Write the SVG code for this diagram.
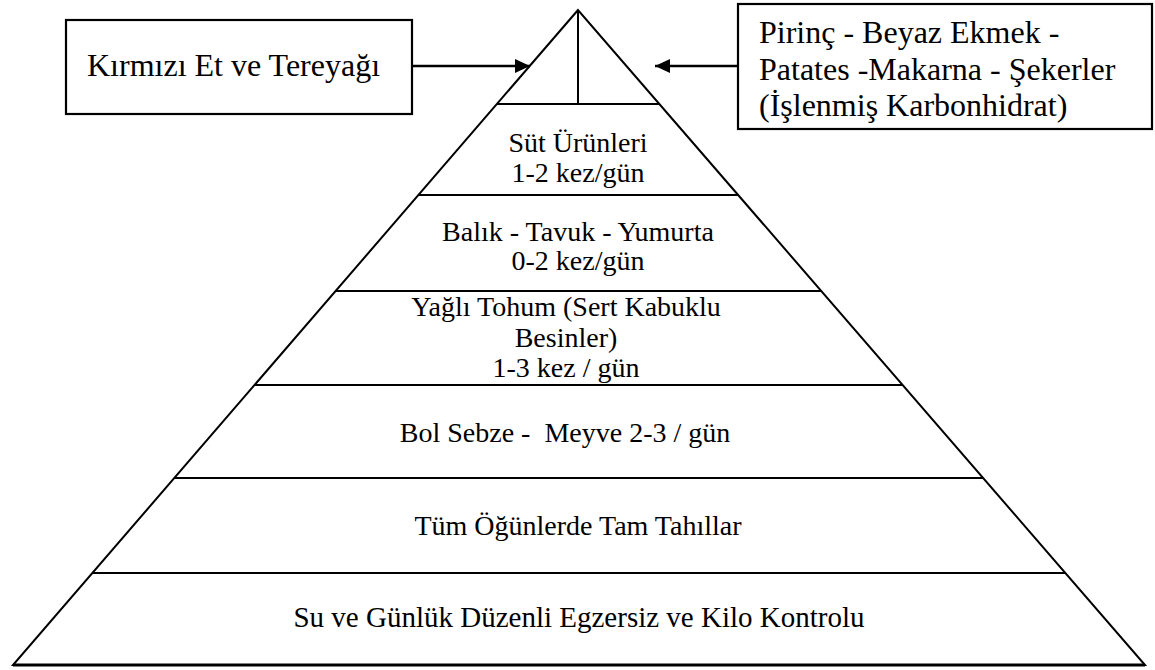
<svg xmlns="http://www.w3.org/2000/svg" width="1155" height="670" viewBox="0 0 1155 670">
<style>
.ln{stroke:#000;stroke-width:2;fill:none}
.bx{stroke:#000;stroke-width:2.2;fill:#fff}
.t{font-family:"Liberation Serif","Times New Roman",serif;fill:#000}
.p{font-size:28px;text-anchor:middle}
.b{font-size:32px}
.ar{stroke:#000;stroke-width:2.5;fill:none}
</style>
<defs>
<marker id="ah" markerWidth="16" markerHeight="14" refX="15" refY="7" orient="auto" markerUnits="userSpaceOnUse">
<path d="M0,0 L15,7 L0,14 Z" fill="#000"/>
</marker>
</defs>
<rect width="1155" height="670" fill="#fff"/>
<g id="pyramid">
<polygon class="ln" points="578,10 13,665 1145,665"/>
<line class="ln" x1="578" y1="10" x2="578" y2="104"/>
<line class="ln" x1="497" y1="104" x2="659" y2="104"/>
<line class="ln" x1="418" y1="195" x2="738" y2="195"/>
<line class="ln" x1="336" y1="291" x2="821" y2="291"/>
<line class="ln" x1="255" y1="385" x2="903" y2="385"/>
<line class="ln" x1="174" y1="478" x2="983" y2="478"/>
<line class="ln" x1="92" y1="573" x2="1065" y2="573"/>
<line x1="13" y1="665" x2="1145" y2="665" stroke="#000" stroke-width="3"/>
</g>
<g id="layer1">
<text class="t p" x="578" y="152">Süt Ürünleri</text>
<text class="t p" x="578" y="182">1-2 kez/gün</text>
</g>
<g id="layer2">
<text class="t p" x="578" y="241">Balık - Tavuk - Yumurta</text>
<text class="t p" x="578" y="270">0-2 kez/gün</text>
</g>
<g id="layer3">
<text class="t p" x="566" y="316">Yağlı Tohum (Sert Kabuklu</text>
<text class="t p" x="566" y="347">Besinler)</text>
<text class="t p" x="566" y="377">1-3 kez / gün</text>
</g>
<g id="layer4">
<text class="t p" x="565" y="442" xml:space="preserve">Bol Sebze -  Meyve 2-3 / gün</text>
</g>
<g id="layer5">
<text class="t p" x="578" y="535">Tüm Öğünlerde Tam Tahıllar</text>
</g>
<g id="layer6">
<text class="t p" x="579" y="627" style="font-size:29px">Su ve Günlük Düzenli Egzersiz ve Kilo Kontrolu</text>
</g>
<g id="box-left">
<rect class="bx" x="66" y="20" width="346" height="94"/>
<text class="t b" x="87" y="76">Kırmızı Et ve Tereyağı</text>
</g>
<g id="box-right">
<rect class="bx" x="738" y="4" width="414" height="125"/>
<text class="t b" x="759" y="43">Pirinç - Beyaz Ekmek -</text>
<text class="t b" x="759" y="80">Patates -Makarna - Şekerler</text>
<text class="t b" x="759" y="116">(İşlenmiş Karbonhidrat)</text>
</g>
<g id="connectors">
<line class="ar" x1="412" y1="66" x2="530" y2="66" marker-end="url(#ah)"/>
<line class="ar" x1="738" y1="66" x2="655" y2="66" marker-end="url(#ah)"/>
</g>
</svg>
